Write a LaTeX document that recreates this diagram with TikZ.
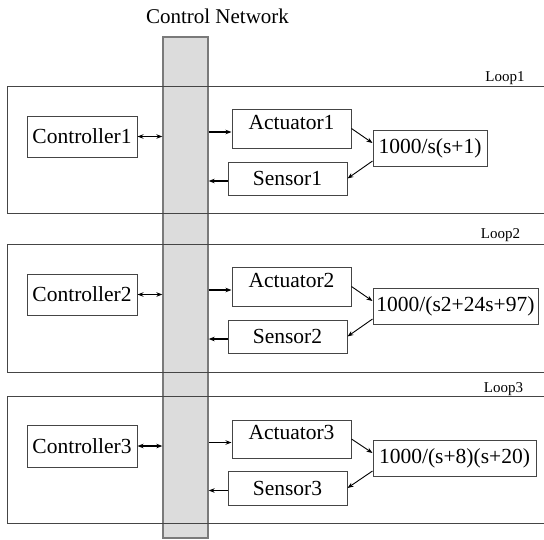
\documentclass[tikz,border=0pt]{standalone}
\usepackage{fontspec}
\setmainfont{Liberation Serif}
\usetikzlibrary{arrows.meta}
\definecolor{netgray}{HTML}{DCDCDC}
\definecolor{edgegray}{HTML}{7A7A7A}
\definecolor{loopgray}{HTML}{454545}
\begin{document}
\begin{tikzpicture}[x=1pt,y=-1pt,
		blk/.style={draw=loopgray,line width=1,inner sep=0,font=\fontsize{21.5}{24}\selectfont},
		actblk/.style={blk,text height=14pt,text depth=13pt},
		arr/.style={line width=1.3,-{Stealth[length=6pt,width=4.5pt]}},
		dblarr/.style={line width=1.3,{Stealth[length=6pt,width=4.5pt]}-{Stealth[length=6pt,width=4.5pt]}},
		thinarr/.style={line width=0.9,-{Stealth[length=6pt,width=4.5pt]}},
		lbl/.style={font=\fontsize{15}{17}\selectfont,anchor=base}]
		\useasboundingbox (0,0) rectangle (544,539);
		% network bar
		\node[draw=edgegray,fill=netgray,line width=1.3,minimum width=45,minimum height=501,inner sep=0] (net) at (185.5,287.5) {};
		\node[font=\fontsize{21}{24}\selectfont,anchor=base] (title) at (217.5,23) {Control Network};
		% loop frames
		\draw [loopgray,line width=1] (546,86) -- (7,86) -- (7,213) -- (546,213);
		\draw [loopgray,line width=1] (546,244) -- (7,244) -- (7,372) -- (546,372);
		\draw [loopgray,line width=1] (546,396) -- (7,396) -- (7,523) -- (546,523);
		\node[lbl] (loop1) at (505,81) {Loop1};
		\node[lbl] (loop2) at (500.5,238) {Loop2};
		\node[lbl] (loop3) at (503.5,392) {Loop3};
		% loop 1
		\node[blk,minimum width=110,minimum height=41] (ctl1) at (82,136.5) {Controller1};
		\node[actblk,minimum width=119,minimum height=39] (act1) at (291.5,128.5) {Actuator1};
		\node[blk,minimum width=119,minimum height=33] (sens1) at (287.5,178.5) {Sensor1};
		\node[blk,minimum width=114,minimum height=36] (plant1) at (430,148) {1000/s(s+1)};
		% loop 2
		\node[blk,minimum width=110,minimum height=41] (ctl2) at (82,294.5) {Controller2};
		\node[actblk,minimum width=119,minimum height=39] (act2) at (291.5,286.5) {Actuator2};
		\node[blk,minimum width=119,minimum height=33] (sens2) at (287.5,336.5) {Sensor2};
		\node[blk,minimum width=165,minimum height=36] (plant2) at (455.5,306) {1000/(s2+24s+97)};
		% loop 3
		\node[blk,minimum width=110,minimum height=42] (ctl3) at (82,446) {Controller3};
		\node[actblk,minimum width=119,minimum height=38] (act3) at (291.5,439) {Actuator3};
		\node[blk,minimum width=119,minimum height=34] (sens3) at (287.5,488) {Sensor3};
		\node[blk,minimum width=163,minimum height=36] (plant3) at (454.5,458) {1000/(s+8)(s+20)};
		\foreach \i in {1,2,3} {
			\draw [dblarr] (ctl\i.east) -- (ctl\i.east -| net.west);
			\draw [arr] ([yshift=-3.5pt]act\i.west -| net.east) -- ([yshift=-3.5pt]act\i.west);
			\draw [arr] ([yshift=-2.5pt]sens\i.west) -- ([yshift=-2.5pt]sens\i.west -| net.east);
			\draw [thinarr] (act\i.east) -- ([yshift=5pt]plant\i.west);
			\draw [thinarr] ([yshift=-13pt]plant\i.west) -- (sens\i.east);
		}
	\end{tikzpicture}
\end{document}
